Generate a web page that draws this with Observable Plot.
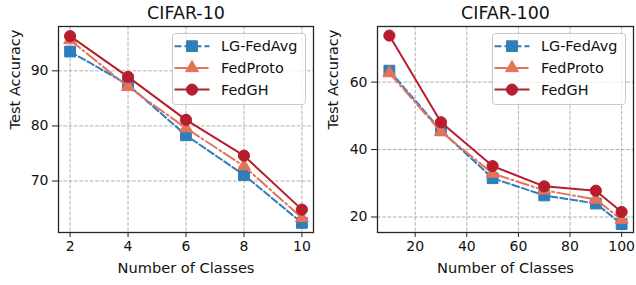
<!DOCTYPE html>
<html>
<head>
<meta charset="utf-8">
<script src="https://cdn.jsdelivr.net/npm/d3@7"></script>
<script src="https://cdn.jsdelivr.net/npm/@observablehq/plot@0.6"></script>
<style>
  body { margin: 0; background: white; }
  #wrap { display: flex; width: 636px; height: 285px; }
</style>
</head>
<body>
<div id="wrap"></div>
<script>
// ---- data ----
const seriesNames = ["LG-FedAvg", "FedProto", "FedGH"];
const classes10 = [2, 4, 6, 8, 10];
const lg10 = [93.5, 87.5, 78.3, 71.1, 62.4];
const proto10 = [95.6, 87.1, 79.6, 72.7, 63.3];
const gh10 = [96.3, 88.9, 81.1, 74.6, 64.8];
const classes100 = [10, 30, 50, 70, 90, 100];
const lg100 = [63.4, 45.7, 31.5, 26.4, 24.0, 17.9];
const proto100 = [62.7, 45.3, 32.9, 27.9, 25.2, 19.2];
const gh100 = [73.8, 48.1, 35.1, 29.1, 27.8, 21.5];
const xTicks10 = [2, 4, 6, 8, 10];
const yTicks10 = [70, 80, 90];
const xTicks100 = [20, 40, 60, 80, 100];
const yTicks100 = [20, 40, 60];

// ---- styles ----
const styles = {
  "LG-FedAvg": {color: "#2e7ebc", dash: "7,3", symbol: "square", r: 6.1},
  "FedProto": {color: "#e4735a", dash: "12.8,3.2,2,3.2", symbol: "triangle", r: 4.8},
  "FedGH": {color: "#b71e2d", dash: null, symbol: "circle", r: 5.6}
};
const FONT = "DejaVu Sans, sans-serif";

function panel({title, xs, values, xDomain, yDomain, xTicks, yTicks, width, marginLeft, marginRight, yLabelDx}) {
  const marginTop = 26, marginBottom = 53, height = 285;
  const marks = [
    Plot.ruleX(xTicks, {stroke: "#b0b0b0", strokeOpacity: 1, strokeWidth: 1, strokeDasharray: "3.7,1.6"}),
    Plot.ruleY(yTicks, {stroke: "#b0b0b0", strokeOpacity: 1, strokeWidth: 1, strokeDasharray: "3.7,1.6"})
  ];
  seriesNames.forEach((name, i) => {
    const s = styles[name];
    const rows = xs.map((x, j) => ({x, y: values[i][j], name}));
    marks.push(Plot.line(rows, {x: "x", y: "y", stroke: s.color, strokeWidth: 2, strokeDasharray: s.dash}));
    marks.push(Plot.dot(rows, {x: "x", y: "y", symbol: () => s.symbol, r: s.r, fill: s.color, stroke: s.color, strokeWidth: 1}));
  });
  marks.push(Plot.frame({stroke: "#262626", strokeWidth: 1.3}));
  marks.push(Plot.axisX(xTicks, {tickSize: 5, tickPadding: 4, fontSize: 14, label: null, stroke: "#222", fill: "#111", tickFormat: d => String(d)}));
  marks.push(Plot.axisY(yTicks, {tickSize: 6, tickPadding: 4, fontSize: 14, label: null, stroke: "#222", fill: "#111", tickFormat: d => String(d)}));
  marks.push(Plot.text([title], {frameAnchor: "top", lineAnchor: "middle", dy: -13, fontSize: 17.5, fill: "#111"}));
  marks.push(Plot.text(["Number of Classes"], {frameAnchor: "bottom", lineAnchor: "middle", dy: 36, fontSize: 14.6, fill: "#111"}));
  marks.push(Plot.text(["Test Accuracy"], {frameAnchor: "left", lineAnchor: "middle", dx: yLabelDx, rotate: -90, fontSize: 14.6, fill: "#111"}));

  const plot = Plot.plot({
    width, height, marginLeft, marginRight, marginTop, marginBottom,
    style: {fontFamily: FONT, fontSize: "14px", color: "#111", background: "white", overflow: "visible"},
    x: {domain: xDomain, label: null},
    y: {domain: yDomain, label: null},
    symbol: {type: "identity"},
    marks
  });

  // legend (upper right inside the frame)
  const svg = d3.select(plot);
  const frameRight = width - marginRight;
  const boxW = 133, boxH = 71;
  const bx = frameRight - 7.5 - boxW, by = marginTop + 7.5;
  const g = svg.append("g").attr("text-anchor", "start");
  g.append("rect").attr("x", bx).attr("y", by).attr("width", boxW).attr("height", boxH)
    .attr("rx", 3).attr("fill", "white").attr("fill-opacity", 0.8).attr("stroke", "#c8c8c8").attr("stroke-width", 1);
  seriesNames.forEach((name, i) => {
    const s = styles[name];
    const cy = by + 12.7 + i * 21.7;
    g.append("line").attr("x1", bx + 2).attr("x2", bx + 37).attr("y1", cy).attr("y2", cy)
      .attr("stroke", s.color).attr("stroke-width", 2).attr("stroke-dasharray", s.dash);
    const sym = {square: d3.symbolSquare, triangle: d3.symbolTriangle, circle: d3.symbolCircle}[s.symbol];
    g.append("path").attr("d", d3.symbol(sym, Math.PI * s.r * s.r)())
      .attr("transform", `translate(${bx + 19.5},${cy})`).attr("fill", s.color).attr("stroke", s.color);
    g.append("text").attr("x", bx + 48.5).attr("y", cy).attr("dy", "0.35em").attr("text-anchor", "start")
      .attr("font-family", FONT).attr("font-size", 14.4).attr("fill", "#111").text(name);
  });
  return plot;
}

const wrap = document.getElementById("wrap");
wrap.appendChild(panel({
  title: "CIFAR-10", xs: classes10, values: [lg10, proto10, gh10],
  xDomain: [1.6, 10.4], yDomain: [60.65, 98.05], xTicks: xTicks10, yTicks: yTicks10,
  width: 318, marginLeft: 58, marginRight: 5, yLabelDx: -43
}));
wrap.appendChild(panel({
  title: "CIFAR-100", xs: classes100, values: [lg100, proto100, gh100],
  xDomain: [5.4, 104.6], yDomain: [15.4, 76.5], xTicks: xTicks100, yTicks: yTicks100,
  width: 318, marginLeft: 59, marginRight: 3, yLabelDx: -44
}));
</script>
</body>
</html>
